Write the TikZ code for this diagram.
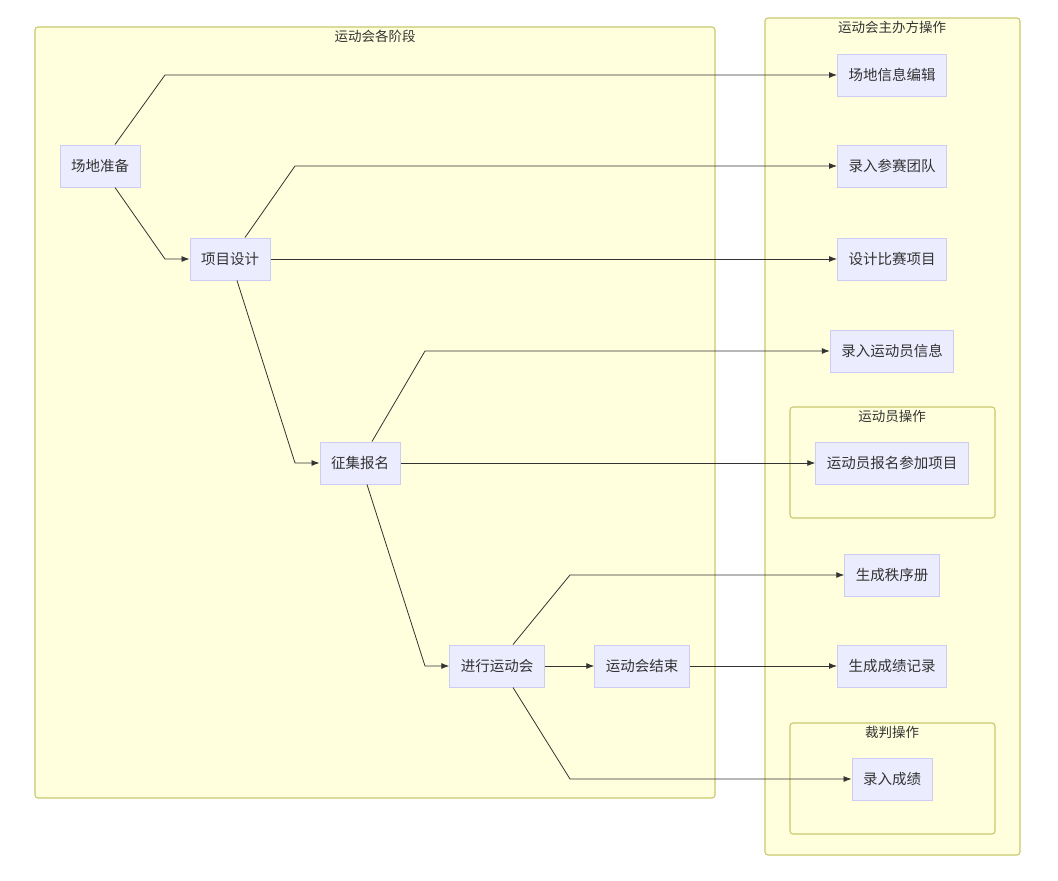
\documentclass[tikz,border=0pt]{standalone}
\usepackage{fontspec}
\setmainfont{Noto Sans CJK SC}
\usepackage{tikz}
\usetikzlibrary{positioning}
\usetikzlibrary{calc}
\usetikzlibrary{arrows.meta}

\definecolor{clusterfill}{HTML}{FFFFDE}
\definecolor{clusterline}{HTML}{C8C86E}
\definecolor{boxfill}{HTML}{ECECFF}
\definecolor{boxline}{HTML}{CCCCF4}
\definecolor{edgeline}{HTML}{333333}

\tikzset{
  cluster/.style={draw=clusterline, fill=clusterfill, line width=1.1pt, rounded corners=3pt},
  ctitle/.style={anchor=north, inner sep=0pt, text=edgeline, font=\fontsize{13.5pt}{15pt}\selectfont},
  box/.style={draw=boxline, fill=boxfill, line width=1pt, minimum height=42pt, inner xsep=11pt,
              text=edgeline, font=\fontsize{14.5pt}{16pt}\selectfont},
  edge/.style={draw=edgeline, line width=0.8pt, -{Latex[length=8pt,width=6pt]}}
}

\begin{document}
\begin{tikzpicture}[x=1pt, y=-1pt]
  \useasboundingbox[fill=white] (0,0) rectangle (1058,881);

  % clusters
  \draw[cluster] (35,27) rectangle (715,798);
  \node[ctitle] (stagetitle) at (375,30) {运动会各阶段};
  \draw[cluster] (765,18) rectangle (1020,855);
  \node[ctitle] (hosttitle) at (892,21) {运动会主办方操作};
  \draw[cluster] (790,407) rectangle (995,518);
  \node[ctitle] (athtitle) at (892,410) {运动员操作};
  \draw[cluster] (790,723) rectangle (995,834);
  \node[ctitle] (reftitle) at (892,726) {裁判操作};

  % stage nodes
  \node[box] (venue)  at (100,166) {场地准备};
  \node[box] (design) at (230,259) {项目设计};
  \node[box] (signup) at (360,463) {征集报名};
  \node[box] (run)    at (497,666) {进行运动会};
  \node[box] (finish) at (642,666) {运动会结束};

  % operation nodes
  \node[box] (venueedit) at (892,75)  {场地信息编辑};
  \node[box] (teams)     at (892,166) {录入参赛团队};
  \node[box] (items)     at (892,259) {设计比赛项目};
  \node[box] (athinfo)   at (892,351) {录入运动员信息};
  \node[box] (athsign)   at (892,463) {运动员报名参加项目};
  \node[box] (order)     at (892,575) {生成秩序册};
  \node[box] (results)   at (892,666) {生成成绩记录};
  \node[box] (scores)    at (892,779) {录入成绩};

  % bend columns
  \coordinate (b1) at (165,0);
  \coordinate (b2) at (295,0);
  \coordinate (b3) at (425,0);
  \coordinate (b4) at (570,0);

  % connectors
  \draw[edge] ([xshift=15pt]venue.north) -- (b1 |- venueedit.west) -- (venueedit.west);
  \draw[edge] ([xshift=15pt]venue.south) -- (b1 |- design.west) -- (design.west);
  \draw[edge] ([xshift=15pt]design.north) -- (b2 |- teams.west) -- (teams.west);
  \draw[edge] (design.east) -- (items.west);
  \draw[edge] ([xshift=7pt]design.south) -- (b2 |- signup.west) -- (signup.west);
  \draw[edge] ([xshift=12pt]signup.north) -- (b3 |- athinfo.west) -- (athinfo.west);
  \draw[edge] (signup.east) -- (athsign.west);
  \draw[edge] ([xshift=7pt]signup.south) -- (b3 |- run.west) -- (run.west);
  \draw[edge] ([xshift=16pt]run.north) -- (b4 |- order.west) -- (order.west);
  \draw[edge] (run.east) -- (finish.west);
  \draw[edge] (finish.east) -- (results.west);
  \draw[edge] ([xshift=16pt]run.south) -- (b4 |- scores.west) -- (scores.west);
\end{tikzpicture}
\end{document}
